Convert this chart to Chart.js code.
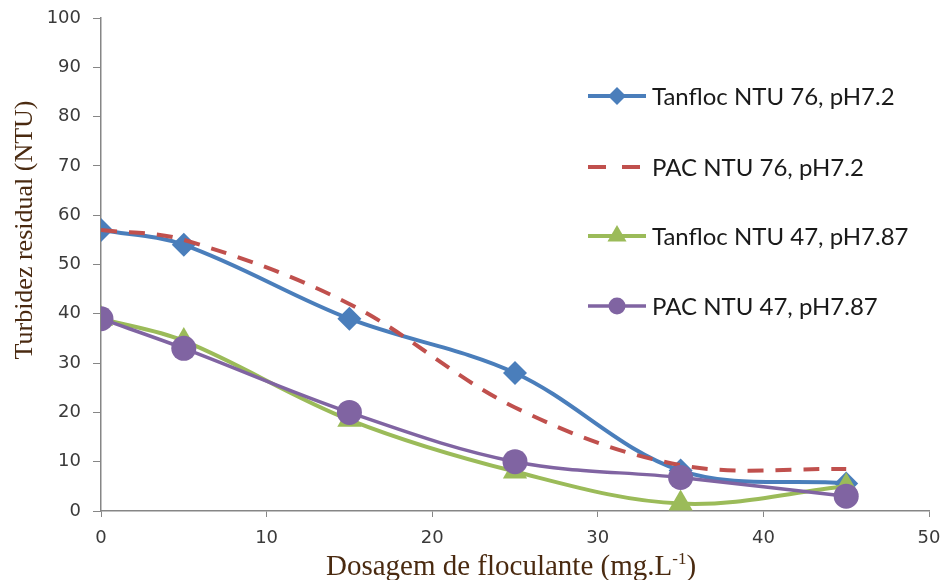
<!DOCTYPE html>
<html>
<head>
<meta charset="utf-8">
<script src="https://cdn.jsdelivr.net/npm/chart.js@4.4.0/dist/chart.umd.min.js"></script>
<style>
  html, body { margin: 0; padding: 0; background: #fff; }
  #wrap { width: 943px; height: 580px; }
</style>
</head>
<body>
<div id="wrap"><canvas id="chart" width="943" height="580"></canvas></div>
<script>
// dosagem (mg/L) e turbidez residual (NTU)
const doses = [0, 5, 15, 25, 35, 45];
const tanfloc76 = [57, 54, 39, 28, 8.2, 5.6];
const pac76 = [57, 55, 42, 21, 9.3, 8.5];
const tanfloc47 = [39, 34.5, 18.5, 8, 1.5, 5];
const pac47 = [39, 33, 20, 10, 6.8, 3];
const seriesLabels = ['Tanfloc NTU 76, pH7.2', 'PAC NTU 76, pH7.2', 'Tanfloc NTU 47, pH7.87', 'PAC NTU 47, pH7.87'];
const xTitle = ['Dosagem de floculante (mg.L', '-1', ')']; // texto, expoente, fim
const yTitle = 'Turbidez residual (NTU)';

const toPoints = arr => arr.map((v, i) => ({ x: doses[i], y: v }));

const TITLE_COLOR = '#4a2a10';
const TICK_FONT = { family: 'DejaVu Sans, Verdana, sans-serif', size: 18 };

// legende dessinee a la main (ligne + marqueur comme dans Excel)
const legendPlugin = {
  id: 'sideLegend',
  afterDraw(chart) {
    const ctx = chart.ctx;
    const rows = [96, 167, 236, 306];
    chart.data.datasets.forEach((ds, i) => {
      const y = rows[i];
      ctx.save();
      ctx.strokeStyle = ds.borderColor;
      ctx.lineWidth = ds.borderWidth;
      ctx.setLineDash(ds.borderDash ? [18, 16] : []);
      ctx.beginPath();
      ctx.moveTo(588, y);
      ctx.lineTo(646, y);
      ctx.stroke();
      ctx.setLineDash([]);
      ctx.fillStyle = ds.pointBackgroundColor || ds.borderColor;
      const cx = 617;
      if (ds.pointRadius > 0) {
        ctx.beginPath();
        if (ds.pointStyle === 'rectRot') {
          const r = 9;
          ctx.moveTo(cx, y - r); ctx.lineTo(cx + r, y); ctx.lineTo(cx, y + r); ctx.lineTo(cx - r, y);
        } else if (ds.pointStyle === 'triangle') {
          const r = 11;
          ctx.moveTo(cx, y - r); ctx.lineTo(cx + r * 0.866, y + r / 2); ctx.lineTo(cx - r * 0.866, y + r / 2);
        } else {
          ctx.arc(cx, y, 8.5, 0, Math.PI * 2);
        }
        ctx.closePath();
        ctx.fill();
      }
      ctx.fillStyle = '#1a1a1a';
      ctx.font = '24px Lato';
      ctx.textBaseline = 'middle';
      ctx.textAlign = 'left';
      ctx.fillText(ds.label, 652, y + 1);
      ctx.restore();
    });
  }
};

// titres des axes (serif, brun)
const axisTitlePlugin = {
  id: 'axisTitles',
  afterDraw(chart) {
    const ctx = chart.ctx;
    ctx.save();
    ctx.fillStyle = TITLE_COLOR;
    ctx.textBaseline = 'alphabetic';
    ctx.textAlign = 'left';
    const big = '29px "Liberation Serif"', small = '17px "Liberation Serif"';
    ctx.font = big;
    const w0 = ctx.measureText(xTitle[0]).width;
    const w2 = ctx.measureText(xTitle[2]).width;
    ctx.font = small;
    const w1 = ctx.measureText(xTitle[1]).width;
    let x = 511 - (w0 + w1 + w2) / 2;
    const base = 575;
    ctx.font = big; ctx.fillText(xTitle[0], x, base); x += w0;
    ctx.font = small; ctx.fillText(xTitle[1], x, base - 11); x += w1;
    ctx.font = big; ctx.fillText(xTitle[2], x, base);

    ctx.font = '26px "Liberation Serif"';
    ctx.textAlign = 'center';
    ctx.textBaseline = 'middle';
    ctx.translate(25, 230);
    ctx.rotate(-Math.PI / 2);
    ctx.fillText(yTitle, 0, 0);
    ctx.restore();
  }
};

new Chart(document.getElementById('chart'), {
  type: 'line',
  data: {
    datasets: [
      { label: seriesLabels[0], data: toPoints(tanfloc76), borderColor: '#4a7ebb', backgroundColor: '#4a7ebb', pointBackgroundColor: '#4a7ebb',
        borderWidth: 4, pointStyle: 'rectRot', pointRadius: 12, pointBorderWidth: 0, tension: 0.35, order: 4 },
      { label: seriesLabels[1], data: toPoints(pac76), borderColor: '#c0504d', backgroundColor: '#c0504d',
        borderWidth: 4, borderDash: [16, 12], pointRadius: 0, tension: 0.35, order: 3 },
      { label: seriesLabels[2], data: toPoints(tanfloc47), borderColor: '#9bbb59', backgroundColor: '#9bbb59', pointBackgroundColor: '#9bbb59',
        borderWidth: 4, pointStyle: 'triangle', pointRadius: 14, pointBorderWidth: 0, tension: 0.35, order: 2 },
      { label: seriesLabels[3], data: toPoints(pac47), borderColor: '#8064a2', backgroundColor: '#8064a2', pointBackgroundColor: '#8064a2',
        borderWidth: 3.5, pointStyle: 'circle', pointRadius: 12.5, pointBorderWidth: 0, tension: 0.35, order: 1 }
    ]
  },
  options: {
    responsive: false,
    animation: false,
    layout: { padding: { top: 18, right: 12, left: 0, bottom: 0 } },
    plugins: { legend: { display: false }, tooltip: { enabled: false } },
    scales: {
      x: {
        type: 'linear', min: 0, max: 50,
        ticks: { stepSize: 10, color: '#3a3a3a', font: TICK_FONT, padding: 11, maxRotation: 0 },
        grid: { drawOnChartArea: false, tickLength: 6, color: '#868686' },
        border: { color: '#868686', width: 1.5 },
        afterFit(scale) { scale.height = 69; scale.paddingLeft = 0; scale.paddingRight = 0; }
      },
      y: {
        min: 0, max: 100,
        ticks: { stepSize: 10, color: '#3a3a3a', font: TICK_FONT, padding: 12 },
        grid: { drawOnChartArea: false, tickLength: 8, color: '#868686' },
        border: { color: '#868686', width: 1.5 },
        afterFit(scale) { scale.width = 101; scale.paddingTop = 0; scale.paddingBottom = 0; }
      }
    }
  },
  plugins: [legendPlugin, axisTitlePlugin]
});
</script>
</body>
</html>
